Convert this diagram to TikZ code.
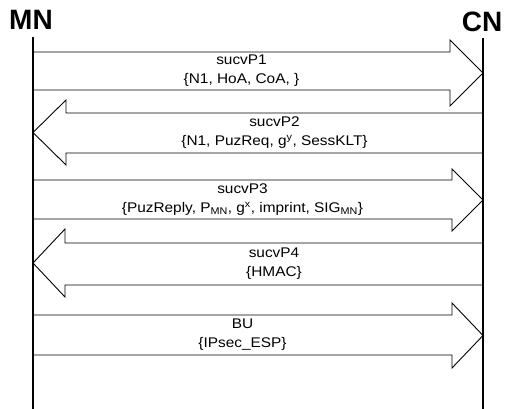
\documentclass[tikz,border=0pt]{standalone}
\usepackage{fontspec}
\setmainfont{Liberation Sans}[FakeStretch=1.1]
\newfontfamily\headfont{Liberation Sans}
% #1 top, #2 bottom, #3 head top, #4 head bottom, #5 head base x, #6 name, #7 text
\newcommand\msgright[7]{%
  \draw[msgarrow] (mnX|-0,#1) -- (#5,#1) -- (#5,#3) -- (cnX|-0,{(#3+#4)/2}) -- (#5,#4) -- (#5,#2) -- (mnX|-0,#2);
  \node[lbl] (#6) at ({(33+#5)/2},{(#1+#2)/2}) {#7};}
\newcommand\msgleft[7]{%
  \draw[msgarrow] (cnX|-0,#1) -- (#5,#1) -- (#5,#3) -- (mnX|-0,{(#3+#4)/2}) -- (#5,#4) -- (#5,#2) -- (cnX|-0,#2);
  \node[lbl] (#6) at ({(483+#5)/2},{(#1+#2)/2}) {#7};}
\begin{document}
\begin{tikzpicture}[x=1pt,y=-1pt,
  life/.style={line width=2.6pt},
  msgarrow/.style={line width=0.9pt, line join=miter},
  lbl/.style={font=\fontsize{14}{19}\selectfont, align=center, inner sep=0pt},
  actor/.style={font=\headfont\bfseries\fontsize{28}{28}\selectfont, inner sep=0pt}]
\useasboundingbox (0,0) rectangle (506,409);
\fill[white] (0,0) rectangle (506,409);
\node[actor] (mn) at (31,20) {MN};
\node[actor] (cn) at (482,22) {CN};
\coordinate (mnX) at (33,0);
\coordinate (cnX) at (483,0);
\coordinate (mnTop) at (33,37);
\coordinate (mnBot) at (33,409);
\coordinate (cnTop) at (483,38);
\coordinate (cnBot) at (483,409);
\draw[life] (mnTop) -- (mnBot);
\draw[life] (cnTop) -- (cnBot);
\msgright{52}{90}{40}{106}{450}{m1}{sucvP1\\\{N1, HoA, CoA, \}}
\msgleft{113}{153}{100}{165}{66}{m2}{sucvP2\\\{N1, PuzReq, g\textsuperscript{y}, SessKLT\}}
\msgright{180}{219}{169}{231}{452}{m3}{sucvP3\\\{PuzReply, P\textsubscript{MN}, g\textsuperscript{x}, imprint, SIG\textsubscript{MN}\}}
\msgleft{243}{285}{229}{297}{65}{m4}{sucvP4\\\{HMAC\}}
\msgright{315}{355}{303}{368}{452}{m5}{BU\\\{IPsec\_ESP\}}
\end{tikzpicture}
\end{document}
